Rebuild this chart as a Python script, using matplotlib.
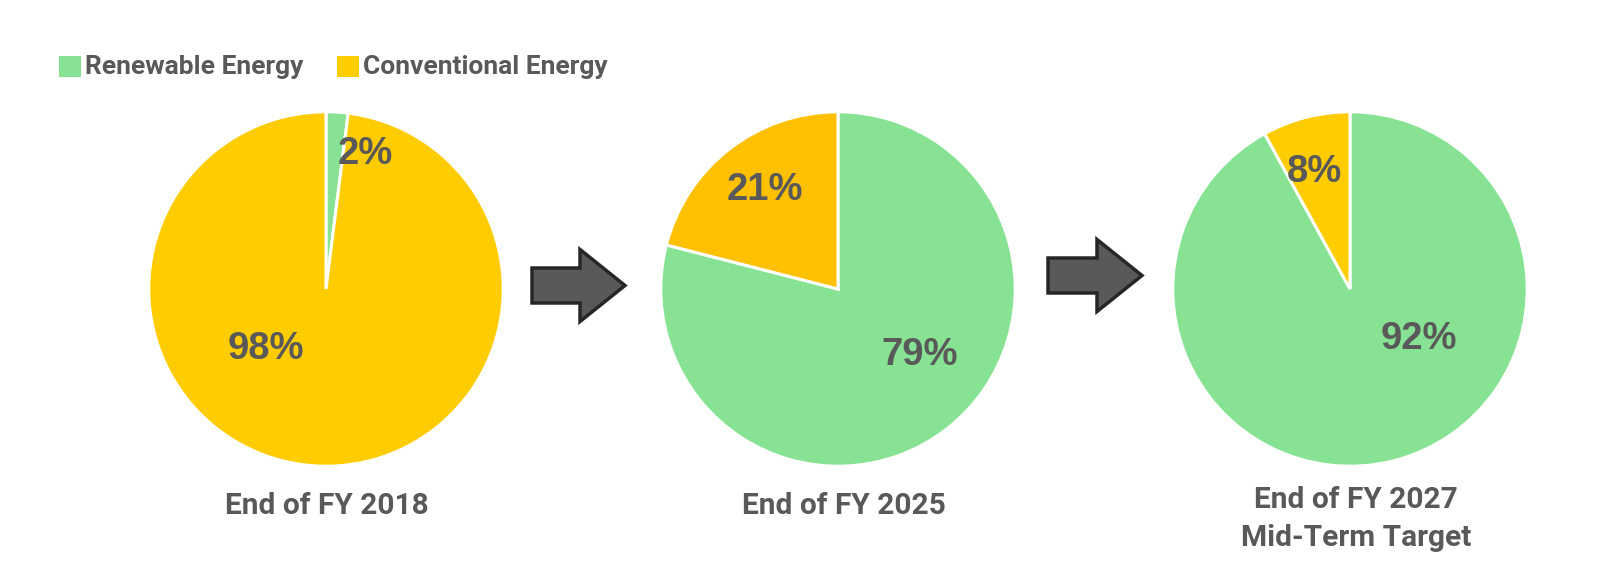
import matplotlib
matplotlib.use("Agg")
import matplotlib.pyplot as plt
from matplotlib.patches import FancyArrow, Rectangle

series = ["Renewable Energy", "Conventional Energy"]
periods = ["End of FY 2018", "End of FY 2025", "End of FY 2027\nMid-Term Target"]
renewable = [2, 79, 92]
conventional = [98, 21, 8]

green = "#87E293"
yellows = ["#FFCC00", "#FFC000", "#FFCC00"]
text_grey = "#595959"
label_font = ["Roboto", "DejaVu Sans"]
pct_font = ["Liberation Sans", "DejaVu Sans"]

W, H = 1610, 576
fig = plt.figure(figsize=(W / 100, H / 100), dpi=100)

# overlay in pixel coordinates for arrows, legend and captions
bg = fig.add_axes([0, 0, 1, 1])
bg.set_xlim(0, W)
bg.set_ylim(H, 0)
bg.axis("off")

centers_x = [326, 838, 1350]
center_y = 289
r = 179
# label positions inside each pie (fraction of radius), renewable first
pct_pos = [
    [(0.22, 0.76), (-0.34, -0.34)],
    [(0.46, -0.37), (-0.41, 0.56)],
    [(0.39, -0.28), (-0.20, 0.66)],
]

for i, cx in enumerate(centers_x):
    ax = fig.add_axes([(cx - r) / W, (H - center_y - r) / H, 2 * r / W, 2 * r / H])
    vals = [renewable[i], conventional[i]]
    ax.pie(vals, colors=[green, yellows[i]], startangle=90, counterclock=False,
           radius=1, wedgeprops=dict(edgecolor="white", linewidth=2.2))
    ax.set_xlim(-1.01, 1.01)
    ax.set_ylim(-1.01, 1.01)
    ax.set_aspect("equal")
    ax.axis("off")
    for v, (px, py) in zip(vals, pct_pos[i]):
        ax.text(px, py, f"{v}%", ha="center", va="center", fontsize=27.5,
                fontweight="bold", color=text_grey, family=pct_font)

# captions under each pie
cap_y = [506, 506, 519]
cap_x = [327, 844, 1356]
for x, y, t in zip(cap_x, cap_y, periods):
    bg.text(x, y, t, ha="center", va="center", fontsize=21.5, fontweight="bold",
            color=text_grey, family=label_font, linespacing=1.5)

# arrows between pies
for x0, x1, yc in [(532, 625, 285.5), (1048, 1142, 275.5)]:
    bg.add_patch(FancyArrow(x0, yc, x1 - x0, 0, width=35, head_width=72,
                            head_length=45, length_includes_head=True,
                            facecolor="#595959", edgecolor="#262626", linewidth=2.5))

# legend
legend_items = [(59, green), (337, yellows[0])]
for (lx, col), name in zip(legend_items, series):
    bg.add_patch(Rectangle((lx, 56), 22, 21, facecolor=col, edgecolor="none"))
    bg.text(lx + 26, 67, name, ha="left", va="center", fontsize=19, fontweight="bold",
            color=text_grey, family=label_font)

fig.savefig("out.png", dpi=100, facecolor="white")
